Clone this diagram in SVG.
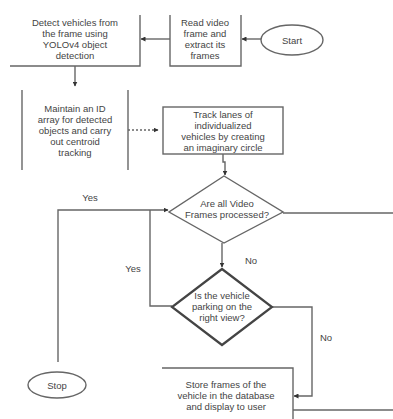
<svg xmlns="http://www.w3.org/2000/svg" width="393" height="419" viewBox="0 0 393 419">
<defs>
<marker id="ah" viewBox="0 0 10 10" refX="9" refY="5" markerWidth="5" markerHeight="5" orient="auto" markerUnits="userSpaceOnUse">
<path d="M0,0 L10,5 L0,10 z" fill="#333"/>
</marker>
</defs>
<style>
.ln{fill:none;stroke:#666;stroke-width:1.4}
.shp{fill:#fff;stroke:#666;stroke-width:1.4}
.dk{fill:#fff;stroke:#444;stroke-width:2.2}
text{font-family:"Liberation Sans",Arial,sans-serif;font-size:9.5px;fill:#444;text-anchor:middle}
</style>
<rect width="393" height="419" fill="#fff"/>
<g id="connectors">
<line class="ln" x1="261" y1="39" x2="242" y2="39" marker-end="url(#ah)"/>
<line class="ln" x1="170" y1="39" x2="141" y2="39" marker-end="url(#ah)"/>
<line class="ln" x1="75" y1="66" x2="75" y2="86" marker-end="url(#ah)"/>
<line class="ln" x1="128" y1="130" x2="158" y2="130" stroke-dasharray="2,2" marker-end="url(#ah)"/>
<polyline class="ln" points="223,154 223,162 225,162 225,175" marker-end="url(#ah)"/>
<line class="ln" x1="283" y1="213" x2="393" y2="213"/>
<polyline class="ln" points="58,362 58,210 168,210" marker-end="url(#ah)"/>
<polyline class="ln" points="172,306 150,306 150,210"/>
<line class="ln" x1="222" y1="243" x2="222" y2="267" marker-end="url(#ah)"/>
<polyline class="ln" points="272,307 312,307 312,396 294,396" marker-end="url(#ah)"/>
<line class="ln" x1="293" y1="410" x2="393" y2="410"/>
<text x="90" y="201">Yes</text>
<text x="133" y="272">Yes</text>
<text x="251" y="264">No</text>
<text x="326" y="341">No</text>
</g>
<g id="detect">
<polyline class="ln" points="10,66 140,66 140,15"/>
<text x="75" y="26">Detect vehicles from</text>
<text x="75" y="37">the frame using</text>
<text x="75" y="48">YOLOv4 object</text>
<text x="75" y="59">detection</text>
</g>
<g id="read">
<polyline class="ln" points="170,15 170,66 241,66 241,15"/>
<text x="205" y="26">Read video</text>
<text x="205" y="37">frame and</text>
<text x="205" y="48">extract its</text>
<text x="205" y="59">frames</text>
</g>
<g id="start">
<ellipse class="shp" cx="292" cy="40" rx="31" ry="15"/>
<text x="292" y="43.5">Start</text>
</g>
<g id="maintain">
<line class="ln" x1="22" y1="90" x2="22" y2="170"/>
<line class="ln" x1="128" y1="90" x2="128" y2="170"/>
<text x="75" y="112">Maintain an ID</text>
<text x="75" y="123">array for detected</text>
<text x="75" y="134">objects and carry</text>
<text x="75" y="145">out centroid</text>
<text x="75" y="156">tracking</text>
</g>
<g id="track">
<rect class="shp" x="163" y="107" width="120" height="47"/>
<text x="223" y="118">Track lanes of</text>
<text x="223" y="129">individualized</text>
<text x="223" y="140">vehicles by creating</text>
<text x="223" y="151">an imaginary circle</text>
</g>
<g id="allframes">
<polygon class="shp" points="224,176 283,212 224,243 169,212"/>
<text x="227" y="207">Are all Video</text>
<text x="227" y="218">Frames processed?</text>
</g>
<g id="parking">
<polygon class="dk" points="222,269 272,307 222,345 172,307"/>
<text x="222" y="299">Is the vehicle</text>
<text x="222" y="310">parking on the</text>
<text x="222" y="321">right view?</text>
</g>
<g id="stop">
<ellipse class="shp" cx="57" cy="385" rx="29" ry="13"/>
<text x="57" y="388.5">Stop</text>
</g>
<g id="store">
<polyline class="ln" points="162,368 293,368 293,419"/>
<text x="226" y="388">Store frames of the</text>
<text x="226" y="399">vehicle in the database</text>
<text x="226" y="410">and display to user</text>
</g>
</svg>
